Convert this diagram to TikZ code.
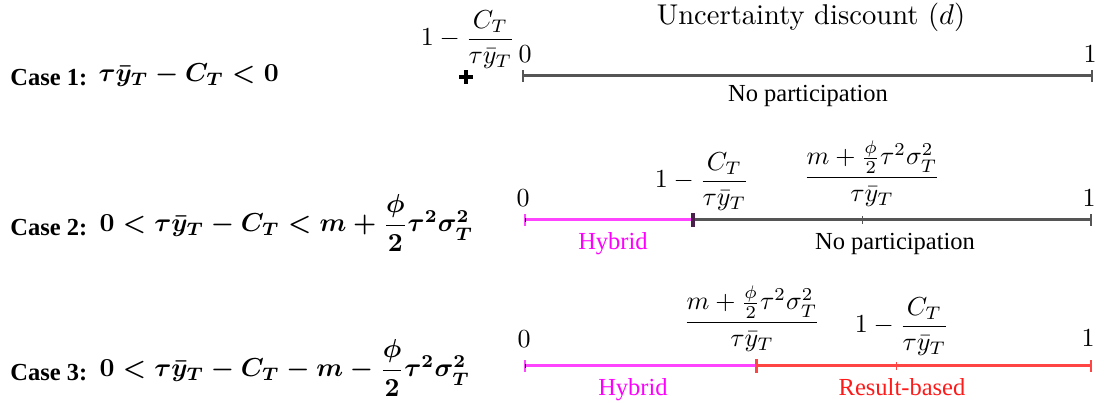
\documentclass[tikz,border=0pt]{standalone}
\usepackage{fontspec}
\usepackage{amsmath}
\newfontfamily\timesf{Liberation Serif}
\definecolor{axgray}{HTML}{555555}
\definecolor{hybline}{HTML}{FF44FF}
\definecolor{resline}{HTML}{FF4444}
\definecolor{hybtext}{HTML}{FF00FF}
\definecolor{restext}{HTML}{FF1A1A}
\definecolor{darktick}{HTML}{4A204A}
\begin{document}
\begin{tikzpicture}[x=1pt,y=-1pt,
  lm/.style={font=\normalsize, scale=2.6, inner sep=0pt, anchor=base},
  casetext/.style={font=\timesf\bfseries\normalsize, scale=2.45, inner sep=0pt, anchor=base west},
  casemath/.style={font=\normalsize\boldmath, scale=2.6, inner sep=0pt, anchor=base west},
  segtext/.style={font=\timesf\normalsize, scale=2.45, inner sep=0pt, anchor=base},
  grayaxis/.style={line width=3pt, axgray},
  hybaxis/.style={line width=3pt, hybline},
  resaxis/.style={line width=3pt, resline},
  endtick/.style={line width=2.5pt},
  thintick/.style={line width=1pt}
]
\useasboundingbox (0,0) rectangle (1104,403);

% title
\node[lm, scale=1.1] (title) at (811,25) {Uncertainty discount ($d$)};

% ---------- Case 1
\node[casetext] (case1) at (10,86) {Case 1:};
\node[casemath] (case1m) at (98,82) {$\tau\bar y_T - C_T < 0$};
\coordinate (c1a) at (523,76);
\coordinate (c1b) at (1092,76);
\coordinate (c1neg) at (466,77);
\draw[grayaxis] (c1a) -- (c1b);
\draw[endtick, axgray] ([yshift=-6pt]c1a) -- ([yshift=6pt]c1a);
\draw[endtick, axgray] ([yshift=-6pt]c1b) -- ([yshift=6pt]c1b);
\draw[line width=3.5pt, black] ([xshift=-7pt]c1neg) -- ([xshift=7pt]c1neg)
  ([yshift=-7pt]c1neg) -- ([yshift=7pt]c1neg);
\node[lm] (c1zero) at (525,63) {0};
\node[lm] (c1one) at (1090,63) {1};
\node[lm] (c1frac) at (468,46) {$1-\dfrac{C_T}{\tau\bar y_T}$};
\node[segtext] (c1np) at (808,102) {No participation};

% ---------- Case 2
\node[casetext] (case2) at (10,236) {Case 2:};
\node[casemath] (case2m) at (99,232) {$0<\tau\bar y_T - C_T < m+\dfrac{\phi}{2}\tau^2\sigma_T^2$};
\coordinate (c2a) at (525,220);
\coordinate (c2m) at (693,220);
\coordinate (c2t) at (862,220);
\coordinate (c2b) at (1091,220);
\draw[hybaxis] (c2a) -- (c2m);
\draw[grayaxis] (c2m) -- (c2b);
\draw[endtick, hybline] ([yshift=-6pt]c2a) -- ([yshift=6pt]c2a);
\draw[line width=1pt, black] ([yshift=-2pt]c2a) -- ([yshift=2pt]c2a);
\draw[line width=3.5pt, darktick] ([yshift=-7pt]c2m) -- ([yshift=7pt]c2m);
\draw[thintick, axgray] ([yshift=-4pt]c2t) -- ([yshift=4pt]c2t);
\draw[endtick, axgray] ([yshift=-6pt]c2b) -- ([yshift=6pt]c2b);
\node[lm] (c2zero) at (523,207) {0};
\node[lm] (c2one) at (1089,207) {1};
\node[lm] (c2fracA) at (702,188) {$1-\dfrac{C_T}{\tau\bar y_T}$};
\node[lm] (c2fracB) at (872,184) {$\dfrac{m+\frac{\phi}{2}\tau^2\sigma_T^2}{\tau\bar y_T}$};
\node[segtext, text=hybtext] (c2hyb) at (613,250) {Hybrid};
\node[segtext] (c2np) at (895,250) {No participation};

% ---------- Case 3
\node[casetext] (case3) at (10,381) {Case 3:};
\node[casemath] (case3m) at (99,377) {$0<\tau\bar y_T - C_T - m-\dfrac{\phi}{2}\tau^2\sigma_T^2$};
\coordinate (c3a) at (525,366);
\coordinate (c3m) at (756,366);
\coordinate (c3t) at (896,366);
\coordinate (c3b) at (1091,366);
\draw[hybaxis] (c3a) -- (c3m);
\draw[resaxis] (c3m) -- (c3b);
\draw[endtick, hybline] ([yshift=-6pt]c3a) -- ([yshift=6pt]c3a);
\draw[line width=1pt, black] ([yshift=-2pt]c3a) -- ([yshift=2pt]c3a);
\draw[line width=3pt, resline] ([yshift=-7pt]c3m) -- ([yshift=7pt]c3m);
\draw[thintick, resline] ([yshift=-4pt]c3t) -- ([yshift=4pt]c3t);
\draw[endtick, resline] ([yshift=-6pt]c3b) -- ([yshift=6pt]c3b);
\node[lm] (c3zero) at (524,348) {0};
\node[lm] (c3one) at (1088,347) {1};
\node[lm] (c3fracA) at (752,329) {$\dfrac{m+\frac{\phi}{2}\tau^2\sigma_T^2}{\tau\bar y_T}$};
\node[lm] (c3fracB) at (902,333) {$1-\dfrac{C_T}{\tau\bar y_T}$};
\node[segtext, text=hybtext] (c3hyb) at (633,396) {Hybrid};
\node[segtext, text=restext] (c3res) at (902,396) {Result-based};
\end{tikzpicture}
\end{document}
